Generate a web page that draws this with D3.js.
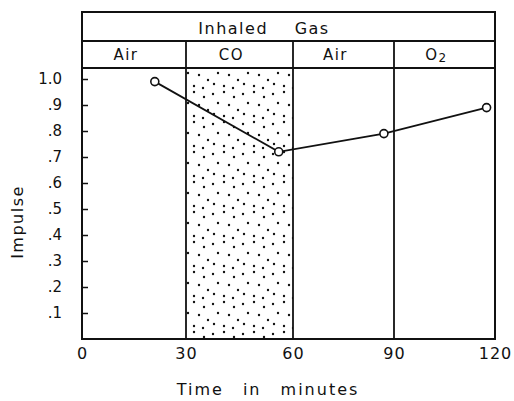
<!DOCTYPE html>
<html>
<head>
<meta charset="utf-8">
<script src="https://cdn.jsdelivr.net/npm/d3@7"></script>
<style>
  body { margin: 0; background: #fff; }
  text { font-family: "DejaVu Sans", sans-serif; fill: #111; }
</style>
</head>
<body>
<svg width="514" height="401"></svg>
<script>
// data
const times = [21, 56, 87, 117.5];
const impulse = [0.99, 0.72, 0.79, 0.89];
const phaseStart = [0, 30, 60, 90];
const phaseEnd = [30, 60, 90, 120];
const phaseGas = ["Air", "CO", "Air", "O2"];
const xTicks = [0, 30, 60, 90, 120];
const yTicks = [0.1, 0.2, 0.3, 0.4, 0.5, 0.6, 0.7, 0.8, 0.9, 1.0];

const left = 82, right = 495;
const headTop = 12, headMid = 41, plotTop = 68, bottom = 339;

const svg = d3.select('svg');

// the drawing is slightly uneven, so the x scale is piecewise
const x = d3.scaleLinear()
    .domain(xTicks)
    .range([82, 186, 293, 394, 495]);
const y = d3.scaleLinear()
    .domain([0, 1])
    .range([bottom, 79]);

// stipple for the CO period
const defs = svg.append('defs');
const pat = defs.append('pattern')
    .attr('id', 'stipple')
    .attr('patternUnits', 'userSpaceOnUse')
    .attr('width', 30).attr('height', 30);
const dots = [[3,4],[14,2],[24,7],[8,13],[19,15],[28,20],[4,24],[14,26],[23,28]];
pat.selectAll('circle').data(dots).enter()
    .append('circle')
    .attr('cx', d => d[0]).attr('cy', d => d[1])
    .attr('r', 1.2).attr('fill', '#111');

svg.append('rect')
    .attr('x', x(30)).attr('y', plotTop)
    .attr('width', x(60) - x(30)).attr('height', bottom - plotTop)
    .attr('fill', 'url(#stipple)');

// frame + header boxes
const stroke = '#111';
svg.append('rect')
    .attr('x', left).attr('y', headTop)
    .attr('width', right - left).attr('height', bottom - headTop)
    .attr('fill', 'none').attr('stroke', stroke).attr('stroke-width', 2);
[headMid, plotTop].forEach(yy => {
    svg.append('line')
        .attr('x1', left).attr('x2', right)
        .attr('y1', yy).attr('y2', yy)
        .attr('stroke', stroke).attr('stroke-width', 2);
});
svg.selectAll('.divider').data(phaseStart.slice(1)).enter()
    .append('line').attr('class', 'divider')
    .attr('x1', d => x(d)).attr('x2', d => x(d))
    .attr('y1', headMid).attr('y2', bottom)
    .attr('stroke', stroke).attr('stroke-width', 1.8);

svg.append('text')
    .attr('x', 264).attr('y', 34)
    .attr('text-anchor', 'middle')
    .style('font-size', '16px')
    .style('letter-spacing', '1.5px')
    .style('word-spacing', '20px')
    .text('Inhaled Gas');

const gasText = svg.selectAll('.gas').data(phaseGas).enter()
    .append('text').attr('class', 'gas')
    .attr('x', (d, i) => (x(phaseStart[i]) + x(phaseEnd[i])) / 2 - 8)
    .attr('y', 60)
    .attr('text-anchor', 'middle')
    .style('font-size', '15px')
    .style('letter-spacing', '1.5px');
gasText.each(function(d) {
    const t = d3.select(this);
    if (d === 'O2') {
        t.append('tspan').text('O');
        t.append('tspan').attr('dy', 2).style('font-size', '12px').text('2');
    } else {
        t.text(d);
    }
});

// axes
const yAxis = d3.axisLeft(y)
    .tickValues(yTicks)
    .tickSizeInner(-6).tickSizeOuter(0)
    .tickPadding(20)
    .tickFormat(d => d === 1 ? '1.0' : d3.format('.1f')(d).replace(/^0/, ''));
const yg = svg.append('g')
    .attr('transform', 'translate(' + left + ',0)')
    .call(yAxis);
yg.select('.domain').remove();
yg.selectAll('line').attr('stroke', stroke).attr('stroke-width', 1.5);
yg.selectAll('text')
    .style('font-size', '15px')
    .style('font-family', '"DejaVu Sans", sans-serif');

const xAxis = d3.axisBottom(x)
    .tickValues(xTicks)
    .tickSize(0)
    .tickPadding(9);
const xg = svg.append('g')
    .attr('transform', 'translate(0,' + bottom + ')')
    .call(xAxis);
xg.select('.domain').remove();
xg.selectAll('text')
    .style('font-size', '16px')
    .style('letter-spacing', '1px')
    .style('font-family', '"DejaVu Sans", sans-serif');

// axis titles
svg.append('text')
    .attr('x', 268).attr('y', 395)
    .attr('text-anchor', 'middle')
    .style('font-size', '16px')
    .style('letter-spacing', '2px')
    .style('word-spacing', '12px')
    .text('Time in minutes');

svg.append('text')
    .attr('transform', 'translate(23,222) rotate(-90)')
    .attr('text-anchor', 'middle')
    .style('font-size', '16px')
    .style('letter-spacing', '1.5px')
    .text('Impulse');

// series
const pts = times.map((t, i) => [t, impulse[i]]);
svg.append('path')
    .datum(pts)
    .attr('d', d3.line().x(d => x(d[0])).y(d => y(d[1])))
    .attr('fill', 'none')
    .attr('stroke', stroke)
    .attr('stroke-width', 1.8);
svg.selectAll('.pt').data(pts).enter()
    .append('circle').attr('class', 'pt')
    .attr('cx', d => x(d[0])).attr('cy', d => y(d[1]))
    .attr('r', 4)
    .attr('fill', '#fff')
    .attr('stroke', stroke)
    .attr('stroke-width', 1.6);
</script>
</body>
</html>
